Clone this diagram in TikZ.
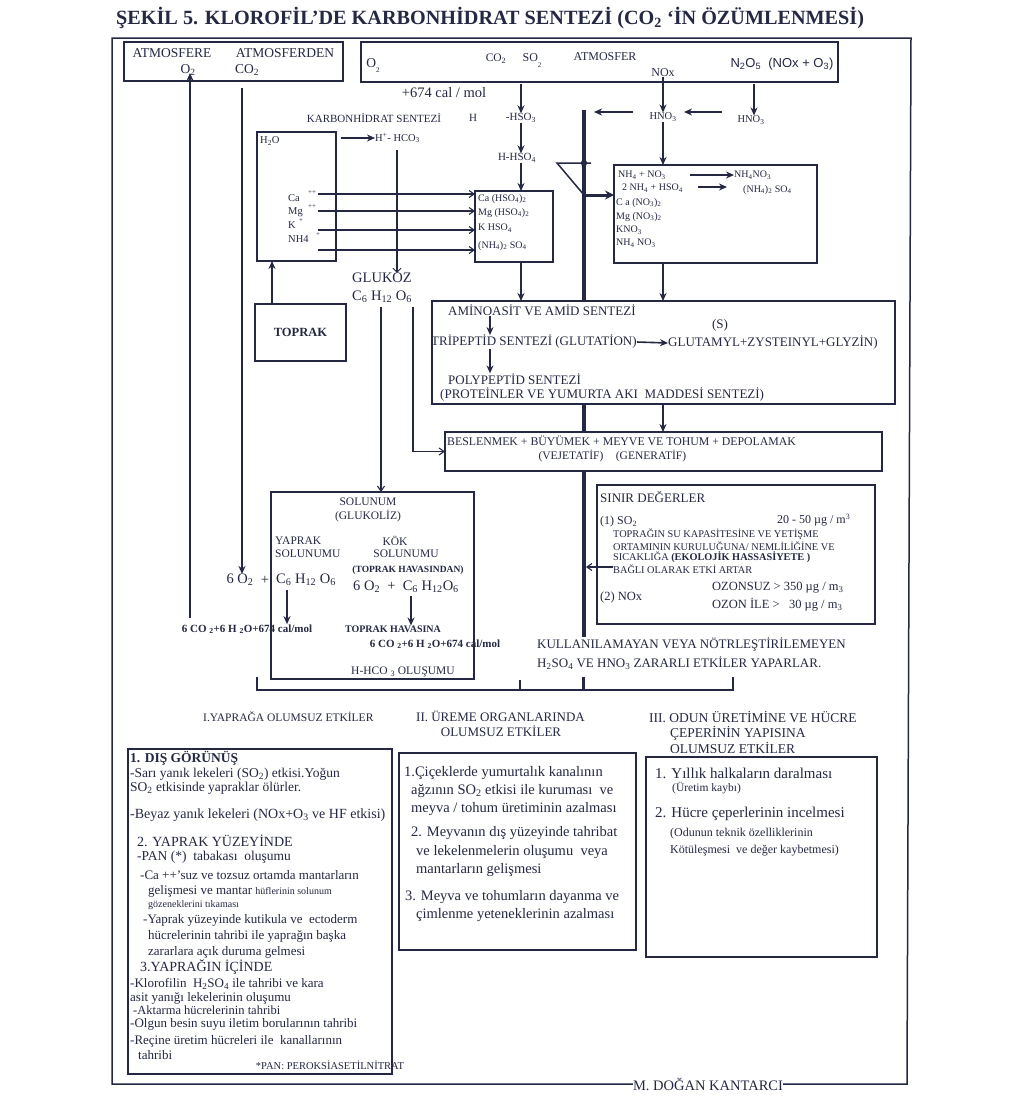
\documentclass[tikz,border=0pt]{standalone}
\usepackage{fontspec}
\setmainfont{Liberation Serif}
\newfontfamily\sansf{Liberation Sans}
\usetikzlibrary{arrows.meta}
\definecolor{ink}{RGB}{36,40,66}
\newcommand{\fz}[1]{\fontsize{#1}{#1}\selectfont}
\newcommand{\sbs}[1]{\textsubscript{#1}}
\newcommand{\sps}[1]{\textsuperscript{#1}}
\tikzset{
  bx/.style={draw=ink, line width=1.6pt},
  ln/.style={draw=ink, line width=1.5pt},
  thk/.style={draw=ink, line width=4pt},
  arr/.style={draw=ink, line width=1.6pt, -{Stealth[length=8pt,width=7pt]}},
  tarr/.style={draw=ink, line width=1.1pt, -{Straight Barb[length=5pt,width=7pt]}},
  lbl/.style={inner sep=0pt, text=ink},
  lw/.style={lbl, anchor=west},
}
\newcommand{\bnode}[5]{\node[bx,anchor=north west,inner sep=0pt,outer sep=0pt,minimum width={(#4)-(#2)},minimum height={(#5)-(#3)}] (#1) at (#2,#3) {};}
\begin{document}
\begin{tikzpicture}[x=1pt,y=-1pt]
\useasboundingbox (0,0) rectangle (1024,1096);
\fill[white] (0,0) rectangle (1024,1096);

% title
\node[lw, font=\bfseries\fz{20.2}] (title) at (116,18) {ŞEKİL 5. KLOROFİL’DE KARBONHİDRAT SENTEZİ (CO\sbs{2} ‘İN ÖZÜMLENMESİ)};

% frame and author
\node[lbl, font=\fz{14.5}] (author) at (708,1084) {M. DOĞAN KANTARCI};
\draw[ln] (author.east) -- (907,1084) -- (911,38) -- (112,38) -- (112,1084) -- (author.west);

% top left box
\bnode{atmL}{124}{42}{343}{81}
\node[lbl, font=\fz{13.5}] (atmere) at (172,53) {ATMOSFERE};
\node[lbl, font=\fz{13.5}] (atmerden) at (285,53) {ATMOSFERDEN};
\node[lbl, font=\fz{13.5}] (o2a) at (188,70) {O\sbs{2}};
\node[lbl, font=\fz{13.5}] (co2a) at (247,70) {CO\sbs{2}};

% top right box
\bnode{atmR}{361}{42}{838}{82}
\node[lbl, font=\fz{13.5}] (qo2) at (373,66) {O\raisebox{-5pt}{\fz{7}2}};
\node[lbl, font=\fz{11.5}] (co2b) at (496,59) {CO\sbs{2}};
\node[lbl, font=\fz{12}] (so2) at (532,61) {SO\raisebox{-6pt}{\fz{7}2}};
\node[lbl, font=\fz{12}] (atmfer) at (605,57) {ATMOSFER};
\node[lbl, font=\fz{12}] (nox) at (663,73) {NOx};
\node[lbl, font=\sansf\fz{13}] (n2o5) at (782,64) {N\sbs{2}O\sbs{5}\ \ (NOx + O\sbs{3})};

\node[lbl, font=\fz{14.5}] (cal) at (444,93) {+674 cal / mol};

% SO2 chain
\node[lbl, font=\fz{11}] (karb) at (374,118) {KARBONHİDRAT SENTEZİ};
\node[lbl, font=\fz{11}] (hh) at (473,118) {H};
\node[lbl, font=\fz{11}] (hso3) at (521,118) {-HSO\sbs{3}};
\node[lbl, font=\fz{11}] (hhso4) at (517,158) {H-HSO\sbs{4}};
\coordinate (cx) at (521,0);
\draw[arr] ([yshift=-2pt]atmR.south -| cx) -- (hso3.north -| cx);
\draw[arr] (hso3.south -| cx) -- (hhso4.north -| cx);

% soil box
\bnode{soil}{257}{132}{336}{261}
\node[lw, font=\fz{10.5}] (h2o) at (260,141) {H\sbs{2}O};
\node[lw, font=\fz{10.5}] (hco3) at (375,138) {H\sps{+}- HCO\sbs{3}};
\coordinate (h1) at (341,138);
\draw[arr] (h1) -- (hco3.west);
\node[lw, font=\fz{10.5}] (ca) at (288,198) {Ca};
\node[lw, font=\fz{10.5}] (mg) at (288,212) {Mg};
\node[lw, font=\fz{10.5}] (kk) at (288,225) {K};
\node[lw, font=\fz{10.5}] (nh4) at (288,239) {NH4};
\node[lbl, font=\fz{7}] (cap) at (312,193) {++};
\node[lbl, font=\fz{7}] (mgp) at (312,207) {++};
\node[lbl, font=\fz{7}] (kp) at (301,221) {+};
\node[lbl, font=\fz{7}] (nhp) at (318,235) {+};

% Ca box
\bnode{cabox}{475}{191}{553}{262}
\node[lw, font=\fz{10}] (c1) at (478,199) {Ca (HSO\sbs{4})\sbs{2}};
\node[lw, font=\fz{10}] (c2) at (478,213) {Mg (HSO\sbs{4})\sbs{2}};
\node[lw, font=\fz{10}] (c3) at (478,228) {K HSO\sbs{4}};
\node[lw, font=\fz{10}] (c4) at (478,246) {(NH\sbs{4})\sbs{2} SO\sbs{4}};
\draw[arr] (hhso4.south -| cx) -- (cabox.north -| cx);
\foreach \yy/\nm in {194/i1,211/i2,230/i3,250/i4}{
  \coordinate (\nm) at (318,\yy);
  \draw[tarr] (\nm) -- (\nm -| cabox.west);
}

% glucose
\node[lbl, font=\fz{14.5}] (gluk) at (382,278) {GLUKOZ};
\node[lbl, font=\fz{14.5}] (c6) at (382,297) {C\sbs{6} H\sbs{12} O\sbs{6}};
\coordinate (gv) at (397,150);
\draw[draw=ink, line width=2.4pt, -{Straight Barb[length=4pt,width=8pt,line width=1pt]}] (gv) -- (gv |- gluk.north);

% toprak
\bnode{toprak}{255}{304}{346}{361}
\node[lbl, font=\bfseries\fz{12.5}] (toptx) at (toprak.center) {TOPRAK};
\coordinate (tp) at (272,304);
\draw[arr] (tp) -- (tp |- soil.south);

% big left arrows
\coordinate (lowL) at (190,618);
\draw[arr, line width=2pt] (lowL) -- ([yshift=8pt]lowL |- atmL.south);
\node[lbl, font=\fz{14.5}] (o2s) at (240,580) {6 O\sbs{2}};
\coordinate (topD) at (242,88);
\draw[arr, line width=2.6pt] (topD) -- (topD |- o2s.north);

% amino box
\bnode{amino}{432}{301}{895}{404}
\node[lw, font=\fz{13}] (am1) at (448,310) {AMİNOASİT VE AMİD SENTEZİ};
\node[lbl, font=\fz{13}] (ss) at (720,325) {(S)};
\node[lw, font=\fz{13}] (am2) at (431,342) {TRİPEPTİD SENTEZİ (GLUTATİON)};
\node[lw, font=\fz{13}] (am3) at (668,343) {GLUTAMYL+ZYSTEINYL+GLYZİN)};
\node[lw, font=\fz{13}] (am4) at (448,379) {POLYPEPTİD SENTEZİ};
\node[lw, font=\fz{13}] (am5) at (440,395) {(PROTEİNLER VE YUMURTA AKI\ \ MADDESİ SENTEZİ)};
\coordinate (ax) at (490,0);
\draw[arr] (am1.south -| ax) -- (am2.north -| ax);
\draw[arr] (am2.south -| ax) -- (am4.north -| ax);
\draw[arr] (am2.east) -- (am3.west);
\draw[arr] (cabox.south -| cx) -- (amino.north -| cx);

% beslenmek box
\bnode{beslen}{445}{432}{882}{471}
\node[lw, font=\fz{11.8}] (b1) at (447,441) {BESLENMEK + BÜYÜMEK + MEYVE VE TOHUM + DEPOLAMAK};
\node[lbl, font=\fz{11.5}] (b2) at (571,456) {(VEJETATİF)};
\node[lbl, font=\fz{11.5}] (b3) at (651,456) {(GENERATİF)};

% glucose lines
\coordinate (g1) at (381,307);
\coordinate (g2) at (413,307);

% NOx side
\node[lbl, font=\fz{10.5}] (hno3a) at (663,117) {HNO\sbs{3}};
\node[lbl, font=\fz{10.5}] (hno3b) at (751,120) {HNO\sbs{3}};
\draw[arr] (nox.south) -- (hno3a.north);
\coordinate (nv) at (754,84);
\draw[arr] (nv) -- (nv |- hno3b.north);
\coordinate (a1s) at (633,112); \coordinate (a1e) at (594,112);
\draw[arr] (a1s) -- (a1e);
\coordinate (a2s) at (722,112); \coordinate (a2e) at (684,112);
\draw[arr] (a2s) -- (a2e);

% NH4 box
\bnode{nhbox}{614}{165}{817}{263}
\draw[arr] (hno3a.south) -- (hno3a.south |- nhbox.north);
\node[lw, font=\fz{10}] (n1) at (618,175) {NH\sbs{4} + NO\sbs{3}};
\node[lw, font=\fz{10}] (n1r) at (734,175) {NH\sbs{4}NO\sbs{3}};
\node[lw, font=\fz{10}] (n2) at (622,188) {2 NH\sbs{4} + HSO\sbs{4}};
\node[lw, font=\fz{10}] (n2r) at (743,190) {(NH\sbs{4})\sbs{2} SO\sbs{4}};
\node[lw, font=\fz{10}] (n3) at (616,203) {C a (NO\sbs{3})\sbs{2}};
\node[lw, font=\fz{10}] (n4) at (616,217) {Mg (NO\sbs{3})\sbs{2}};
\node[lw, font=\fz{10}] (n5) at (616,230) {KNO\sbs{3}};
\node[lw, font=\fz{10}] (n6) at (616,243) {NH\sbs{4} NO\sbs{3}};
\coordinate (p1) at (690,175); \draw[arr] (p1) -- (p1 -| n1r.west);
\coordinate (p2) at (698,187); \draw[arr] (p2) -- ([xshift=-16pt]p2 -| n2r.west);
\coordinate (nx) at (663,0);
\draw[arr] (nhbox.south -| nx) -- (amino.north -| nx);
\draw[arr] (amino.south -| nx) -- (beslen.north -| nx);

% thick trunk and triangle
\coordinate (tk) at (584,110);
\draw[thk] (tk) -- (tk |- amino.north);
\draw[thk] (amino.south -| tk) -- (beslen.north -| tk);
\coordinate (tkb) at (584,637);
\draw[thk] (beslen.south -| tk) -- (tkb);
\coordinate (tri1) at (557,163); \coordinate (tri2) at (591,163); \coordinate (tri3) at (584,195);
\draw[ln] (tri2) -- (tri1) -- (tri3);
\fill[ink] (584,163) circle (3.2);
\draw[draw=ink, line width=3pt, -{Stealth[length=9pt,width=9pt]}] (tri3) -- (tri3 -| nhbox.west);

% solunum box
\bnode{solunum}{271}{492}{474}{679}
\draw[tarr] (g1) -- (g1 |- solunum.north);
\draw[tarr] (g2) |- (beslen.west);
\node[lbl, font=\fz{11.5}] (s1) at (368,502) {SOLUNUM};
\node[lbl, font=\fz{11.5}] (s2) at (368,516) {(GLUKOLİZ)};
\node[lw, font=\fz{11.5}] (s3) at (275,541) {YAPRAK};
\node[lw, font=\fz{11.5}] (s4) at (275,554) {SOLUNUMU};
\node[lbl, font=\fz{11.5}] (s5) at (395,541) {KÖK};
\node[lbl, font=\fz{11.5}] (s6) at (406,554) {SOLUNUMU};
\node[lbl, font=\bfseries\fz{9.5}] (s7) at (408,570) {(TOPRAK HAVASINDAN)};
\node[lbl, font=\fz{14.5}] (plus) at (265,580) {+};
\node[lbl, font=\fz{14.5}] (c6l) at (306,580) {C\sbs{6} H\sbs{12} O\sbs{6}};
\node[lbl, font=\fz{14.5}] (c6r) at (406,587) {6 O\sbs{2}\ \ +\ \ C\sbs{6} H\sbs{12}O\sbs{6}};
\node[lbl, font=\bfseries\fz{11}] (r1) at (247,629) {6 CO \sbs{2}+6 H \sbs{2}O+674 cal/mol};
\node[lbl, font=\bfseries\fz{10}] (r2) at (393,629) {TOPRAK HAVASINA};
\node[lbl, font=\bfseries\fz{11}] (r3) at (435,644) {6 CO \sbs{2}+6 H \sbs{2}O+674 cal/mol};
\node[lbl, font=\fz{11.5}] (r4) at (403,672) {H-HCO \sbs{3} OLUŞUMU};
\coordinate (d1) at (287,590); \draw[arr] (d1) -- (d1 |- r1.north);
\coordinate (d2) at (411,596); \draw[arr] (d2) -- (d2 |- r2.north);

% sinir box
\bnode{sinir}{597}{485}{875}{624}
\node[lw, font=\fz{13}] (z1) at (600,497) {SINIR DEĞERLER};
\node[lw, font=\fz{12}] (z2) at (600,522) {(1) SO\sbs{2}};
\node[lw, font=\fz{12}] (z3) at (777,520) {20 - 50 µg / m\sps{3}};
\node[lw, font=\fz{10.3}] (z4) at (613,534) {TOPRAĞIN SU KAPASİTESİNE VE YETİŞME};
\node[lw, font=\fz{10.3}] (z5) at (613,546) {ORTAMININ KURULUĞUNA/ NEMLİLİĞİNE VE};
\node[lw, font=\fz{10.3}] (z6) at (613,557) {SICAKLIĞA \textbf{(EKOLOJİK HASSASİYETE )}};
\node[lw, font=\fz{10.3}] (z7) at (613,569) {BAĞLI OLARAK ETKİ ARTAR};
\node[lw, font=\fz{12.5}] (z8) at (600,597) {(2) NOx};
\node[lw, font=\fz{12.5}] (z9) at (712,588) {OZONSUZ > 350 µg / m\sbs{3}};
\node[lw, font=\fz{12.5}] (z10) at (712,605) {OZON İLE >\ \ \ 30 µg / m\sbs{3}};
\coordinate (sa) at (613,567);
\draw[tarr] (sa) -- ([xshift=2pt]sa -| tk);

% conclusion
\node[lw, font=\fz{13}] (k1) at (537,645) {KULLANILAMAYAN VEYA NÖTRLEŞTİRİLEMEYEN};
\node[lw, font=\fz{13}] (k2) at (537,663) {H\sbs{2}SO\sbs{4} VE HNO\sbs{3} ZARARLI ETKİLER YAPARLAR.};

% bracket
\coordinate (bt) at (583,677);
\coordinate (bc) at (583,690);
\draw[draw=ink, line width=3pt] (bt) -- (bc);
\coordinate (bl) at (257,690); \coordinate (bm) at (520,690); \coordinate (br) at (733,690);
\draw[ln, line width=2.2pt] ([yshift=13pt]bl) -- (bl) -- (br) -- ([yshift=13pt]br);
\draw[ln, line width=2.2pt] (bm) -- ([yshift=10pt]bm);

\node[lw, font=\fz{11.5}] (h1t) at (203,717) {I.YAPRAĞA OLUMSUZ ETKİLER};
\node[lw, font=\fz{13}] (h2t) at (416,716) {II. ÜREME ORGANLARINDA};
\node[lbl, font=\fz{13}] (h2u) at (501,731) {OLUMSUZ ETKİLER};
\node[lw, font=\fz{13.5}] (h3t) at (649,717) {III. ODUN ÜRETİMİNE VE HÜCRE};
\node[lw, font=\fz{13.5}] (h3u) at (670,733) {ÇEPERİNİN YAPISINA};
\node[lw, font=\fz{13.5}] (h3v) at (670,748) {OLUMSUZ ETKİLER};

% bottom left box
\bnode{lbox}{128}{749}{392}{1074}
\node[lw, font=\bfseries\fz{13.5}] at (130,758) {1. DIŞ GÖRÜNÜŞ};
\node[lw, font=\fz{13.5}] at (130,774) {-Sarı yanık lekeleri (SO\sbs{2}) etkisi.Yoğun};
\node[lw, font=\fz{13.5}] at (130,788) {SO\sbs{2} etkisinde yapraklar ölürler.};
\node[lw, font=\fz{14}] at (130,815) {-Beyaz yanık lekeleri (NOx+O\sbs{3} ve HF etkisi)};
\node[lw, font=\fz{14}] at (137,841) {2. YAPRAK YÜZEYİNDE};
\node[lw, font=\fz{13.5}] at (137,857) {-PAN (*)\ \ tabakası\ \ oluşumu};
\node[lw, font=\fz{13}] at (140,875) {-Ca ++'suz ve tozsuz ortamda mantarların};
\node[lw, font=\fz{13}] at (148,891) {gelişmesi ve mantar {\fz{10}hüflerinin solunum}};
\node[lw, font=\fz{10}] at (148,905) {gözeneklerini tıkaması};
\node[lw, font=\fz{13}] at (143,920) {-Yaprak yüzeyinde kutikula ve\ \ ectoderm};
\node[lw, font=\fz{13}] at (148,936) {hücrelerinin tahribi ile yaprağın başka};
\node[lw, font=\fz{13}] at (148,952) {zararlara açık duruma gelmesi};
\node[lw, font=\fz{14}] at (140,967) {3.YAPRAĞIN İÇİNDE};
\node[lw, font=\fz{13}] at (130,984) {-Klorofilin\ \ H\sbs{2}SO\sbs{4} ile tahribi ve kara};
\node[lw, font=\fz{13}] at (130,998) {asit yanığı lekelerinin oluşumu};
\node[lw, font=\fz{12.5}] at (133,1010) {-Aktarma hücrelerinin tahribi};
\node[lw, font=\fz{13}] at (130,1024) {-Olgun besin suyu iletim borularının tahribi};
\node[lw, font=\fz{13}] at (130,1041) {-Reçine üretim hücreleri ile\ \ kanallarının};
\node[lw, font=\fz{13}] at (138,1055) {tahribi};
\node[lbl, font=\fz{10.5}] at (330,1065) {*PAN: PEROKSİASETİLNİTRAT};

% bottom middle box
\bnode{mbox}{399}{753}{636}{950}
\node[lw, font=\fz{14.5}] at (404,773) {1.Çiçeklerde yumurtalık kanalının};
\node[lw, font=\fz{14.5}] at (411,791) {ağzının SO\sbs{2} etkisi ile kuruması\ \ ve};
\node[lw, font=\fz{14.5}] at (411,809) {meyva / tohum üretiminin azalması};
\node[lw, font=\fz{14.5}] at (411,833) {2. Meyvanın dış yüzeyinde tahribat};
\node[lw, font=\fz{14.5}] at (416,852) {ve lekelenmelerin oluşumu\ \ veya};
\node[lw, font=\fz{14.5}] at (416,870) {mantarların gelişmesi};
\node[lw, font=\fz{14.5}] at (405,897) {3. Meyva ve tohumların dayanma ve};
\node[lw, font=\fz{14.5}] at (416,915) {çimlenme yeteneklerinin azalması};

% bottom right box
\bnode{rbox}{646}{757}{877}{957}
\node[lw, font=\fz{15}] at (655,773) {1. Yıllık halkaların daralması};
\node[lw, font=\fz{11.5}] at (672,788) {(Üretim kaybı)};
\node[lw, font=\fz{15}] at (655,814) {2. Hücre çeperlerinin incelmesi};
\node[lw, font=\fz{12}] at (670,834) {(Odunun teknik özelliklerinin};
\node[lw, font=\fz{12}] at (670,851) {Kötüleşmesi\ \ ve değer kaybetmesi)};
\end{tikzpicture}
\end{document}
